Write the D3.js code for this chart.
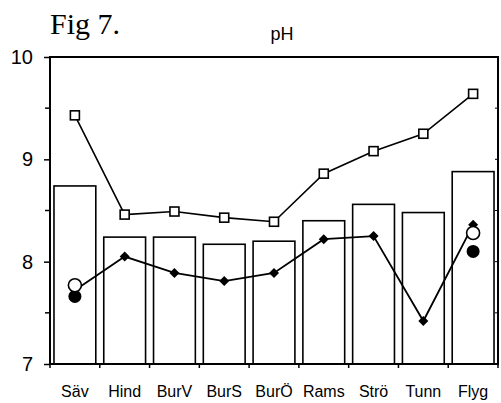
<!DOCTYPE html>
<html>
<head>
<meta charset="utf-8">
<script src="https://cdn.jsdelivr.net/npm/d3@7"></script>
<style>
  body { margin: 0; background: #fff; }
  svg text { fill: #000; }
</style>
</head>
<body>
<div id="chart"></div>
<script>
// data
var sites = ["Säv", "Hind", "BurV", "BurS", "BurÖ", "Rams", "Strö", "Tunn", "Flyg"];
var barValues = [8.74, 8.24, 8.24, 8.17, 8.20, 8.40, 8.56, 8.48, 8.88];
var squareValues = [9.43, 8.46, 8.49, 8.43, 8.39, 8.86, 9.08, 9.25, 9.64];
var diamondValues = [7.72, 8.05, 7.89, 7.81, 7.89, 8.22, 8.25, 7.42, 8.36];
var openCircles = [{site: "Säv", v: 7.77}, {site: "Flyg", v: 8.28}];
var filledCircles = [{site: "Säv", v: 7.66}, {site: "Flyg", v: 8.10}];
var yTicks = [7, 8, 9, 10];
var yMinorTicks = [7.5, 8.5, 9.5];

var width = 501, height = 403;
var margin = {top: 57, right: 3, bottom: 39, left: 50};

var svg = d3.select("#chart").append("svg")
    .attr("width", width)
    .attr("height", height);

var x = d3.scaleBand()
    .domain(sites)
    .range([margin.left, width - margin.right])
    .paddingInner(0.16)
    .paddingOuter(0.08);

var xEdge = d3.scaleLinear()
    .domain([0, sites.length])
    .range([margin.left, width - margin.right]);

var y = d3.scaleLinear()
    .domain([7, 10])
    .range([height - margin.bottom, margin.top]);

var cx = function(s) { return x(s) + x.bandwidth() / 2; };

// bars
svg.append("g").selectAll("rect")
    .data(barValues)
    .enter().append("rect")
    .attr("x", function(d, i) { return x(sites[i]); })
    .attr("y", function(d) { return y(d); })
    .attr("width", x.bandwidth())
    .attr("height", function(d) { return y(7) - y(d); })
    .attr("fill", "#fff")
    .attr("stroke", "#000")
    .attr("stroke-width", 1.6);

// frame
svg.append("rect")
    .attr("x", margin.left)
    .attr("y", margin.top)
    .attr("width", width - margin.left - margin.right)
    .attr("height", height - margin.top - margin.bottom)
    .attr("fill", "none")
    .attr("stroke", "#000")
    .attr("stroke-width", 2);

// left axis
var yAxis = d3.axisLeft(y).tickValues(yTicks).tickSize(6).tickFormat(d3.format("d"));
var ga = svg.append("g")
    .attr("transform", "translate(" + margin.left + ",0)")
    .call(yAxis);
ga.select(".domain").remove();
ga.selectAll("line").attr("stroke-width", 1.5);
ga.selectAll("text")
    .attr("x", -17)
    .style("font-family", "Liberation Sans, Arial, sans-serif")
    .style("font-size", "20px");

svg.append("g").selectAll("line")
    .data(yMinorTicks)
    .enter().append("line")
    .attr("x1", margin.left - 5).attr("x2", margin.left)
    .attr("y1", function(d) { return y(d); })
    .attr("y2", function(d) { return y(d); })
    .attr("stroke", "#000").attr("stroke-width", 1.5);

// right side small ticks
svg.append("g").selectAll("line")
    .data(yMinorTicks.concat([8, 9]))
    .enter().append("line")
    .attr("x1", width - margin.right - 3).attr("x2", width - margin.right)
    .attr("y1", function(d) { return y(d); })
    .attr("y2", function(d) { return y(d); })
    .attr("stroke", "#000").attr("stroke-width", 1);

// bottom ticks at category boundaries
svg.append("g").selectAll("line")
    .data(d3.range(sites.length + 1))
    .enter().append("line")
    .attr("x1", function(d) { return xEdge(d); })
    .attr("x2", function(d) { return xEdge(d); })
    .attr("y1", y(7)).attr("y2", y(7) + 4)
    .attr("stroke", "#000").attr("stroke-width", 1.5);

// category labels
svg.append("g").selectAll("text")
    .data(sites)
    .enter().append("text")
    .attr("x", function(d) { return cx(d); })
    .attr("y", 397)
    .attr("text-anchor", "middle")
    .style("font-family", "Liberation Sans, Arial, sans-serif")
    .style("font-size", "16px")
    .text(function(d) { return d; });

var line = d3.line()
    .x(function(d, i) { return cx(sites[i]); })
    .y(function(d) { return y(d); });

// square series
svg.append("path")
    .datum(squareValues)
    .attr("d", line)
    .attr("fill", "none")
    .attr("stroke", "#000")
    .attr("stroke-width", 1.6);

svg.append("g").selectAll("rect")
    .data(squareValues)
    .enter().append("rect")
    .attr("x", function(d, i) { return cx(sites[i]) - 4.5; })
    .attr("y", function(d) { return y(d) - 4.5; })
    .attr("width", 9).attr("height", 9)
    .attr("fill", "#fff")
    .attr("stroke", "#000")
    .attr("stroke-width", 1.6);

// diamond series
svg.append("path")
    .datum(diamondValues)
    .attr("d", line)
    .attr("fill", "none")
    .attr("stroke", "#000")
    .attr("stroke-width", 1.8);

// rotated squares as diamonds
svg.append("g").selectAll("path")
    .data(diamondValues)
    .enter().append("path")
    .attr("d", d3.symbol().type(d3.symbolSquare).size(50))
    .attr("transform", function(d, i) { return "translate(" + cx(sites[i]) + "," + y(d) + ") rotate(45)"; })
    .attr("fill", "#000");

// circles
svg.append("g").selectAll("circle")
    .data(filledCircles)
    .enter().append("circle")
    .attr("cx", function(d) { return cx(d.site); })
    .attr("cy", function(d) { return y(d.v); })
    .attr("r", 6.5)
    .attr("fill", "#000");

svg.append("g").selectAll("circle")
    .data(openCircles)
    .enter().append("circle")
    .attr("cx", function(d) { return cx(d.site); })
    .attr("cy", function(d) { return y(d.v); })
    .attr("r", 6.5)
    .attr("fill", "#fff")
    .attr("stroke", "#000")
    .attr("stroke-width", 1.6);

// titles
svg.append("text")
    .attr("x", 50).attr("y", 34)
    .style("font-family", "Liberation Serif, Times New Roman, serif")
    .style("font-size", "30px")
    .text("Fig 7.");

svg.append("text")
    .attr("x", 282).attr("y", 40)
    .attr("text-anchor", "middle")
    .style("font-family", "Liberation Sans, Arial, sans-serif")
    .style("font-size", "18px")
    .text("pH");
</script>
</body>
</html>
